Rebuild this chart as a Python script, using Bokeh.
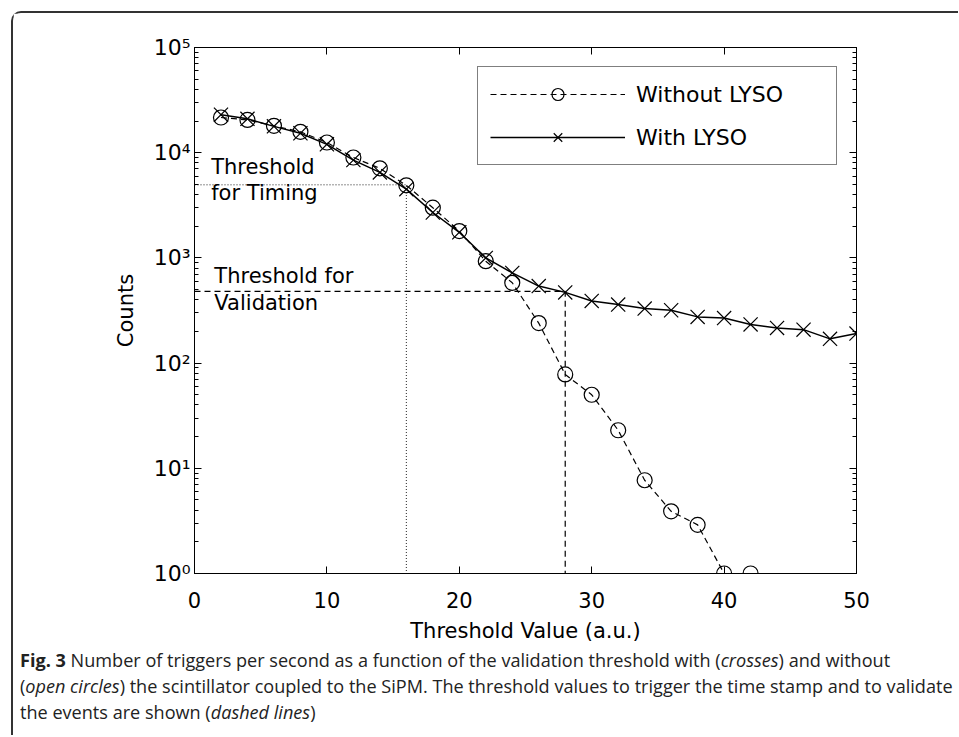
from bokeh.plotting import figure
from bokeh.models import (Range1d, LinearAxis, LogAxis, FixedTicker, Label, Legend,
                          LegendItem, Div, ColumnDataSource, CustomJSTickFormatter)
from bokeh.layouts import column
from bokeh.embed import file_html
from bokeh.resources import INLINE

# ---------------- data ----------------
without_x = [2, 4, 6, 8, 10, 12, 14, 16, 18, 20, 22, 24, 26, 28, 30, 32, 34, 36, 38, 40, 42]
without_counts = [21600, 20500, 18000, 15800, 12500, 9000, 7100, 4900, 3000, 1800,
                  930, 580, 240, 78, 50, 23, 7.7, 3.9, 2.9, 1.0, 1.0]
with_x = [2, 4, 6, 8, 10, 12, 14, 16, 18, 20, 22, 24, 26, 28, 30, 32, 34, 36, 38,
          40, 42, 44, 46, 48, 50]
with_counts = [23000, 21000, 17800, 15300, 12000, 8500, 6500, 4500, 2700, 1750,
               1000, 720, 540, 470, 390, 360, 330, 318, 275, 268, 233, 216, 208, 170, 191]
x_ticks = [0, 10, 20, 30, 40, 50]
y_ticks = [1, 10, 100, 1000, 10000, 100000]
y_tick_labels = ["10\u2070", "10\u00b9", "10\u00b2", "10\u00b3", "10\u2074", "10\u2075"]
timing_threshold = 16
timing_counts = 4950
validation_threshold = 28
validation_counts = 480

FONT = "DejaVu Sans"
FS = "21px"

p = figure(x_range=Range1d(0, 50), y_range=Range1d(1, 1e5), y_axis_type="log",
           frame_width=662, frame_height=526,
           min_border_left=181, min_border_right=90, min_border_top=34, min_border_bottom=72,
           output_backend="svg", toolbar_location=None)
p.grid.visible = False
p.outline_line_color = "black"
p.background_fill_color = "white"
p.border_fill_color = "white"

minor = [m * 10 ** k for k in range(5) for m in range(2, 10)]
blank = CustomJSTickFormatter(code="return '';")

# bottom axis
xa = p.xaxis[0]
xa.ticker = FixedTicker(ticks=x_ticks)
xa.major_tick_in = 7
xa.major_tick_out = 0
xa.minor_tick_line_color = None
xa.major_label_standoff = 18
xa.major_label_text_font = FONT
xa.major_label_text_font_size = FS
xa.major_label_text_color = "black"
xa.axis_label = "Threshold Value (a.u.)"
xa.axis_label_text_font = FONT
xa.axis_label_text_font_size = FS
xa.axis_label_text_font_style = "normal"
xa.axis_label_text_color = "black"
xa.axis_label_standoff = 8
xa.axis_line_color = "black"

# left axis (labels 10^k)
ya = p.yaxis[0]
ya.ticker = FixedTicker(ticks=y_ticks, minor_ticks=minor)
ya.formatter = CustomJSTickFormatter(
    args=dict(yt=y_ticks, yl=y_tick_labels),
    code="""
        let best = 0;
        for (let i = 0; i < yt.length; i++) {
            if (Math.abs(Math.log10(yt[i]) - Math.log10(tick)) <
                Math.abs(Math.log10(yt[best]) - Math.log10(tick))) { best = i; }
        }
        return yl[best];
    """)
ya.major_tick_in = 7
ya.major_tick_out = 0
ya.minor_tick_in = 4
ya.minor_tick_out = 0
ya.major_label_standoff = 4
ya.major_label_text_font = FONT
ya.major_label_text_font_size = "22px"
ya.major_label_text_color = "black"
ya.axis_label = "Counts"
ya.axis_label_text_font = FONT
ya.axis_label_text_font_size = FS
ya.axis_label_text_font_style = "normal"
ya.axis_label_text_color = "black"
ya.axis_label_standoff = 13
ya.axis_line_color = "black"

# top and right axes (box with inward ticks)
top = LinearAxis(ticker=FixedTicker(ticks=x_ticks), formatter=blank, major_tick_in=7,
                 major_tick_out=0, minor_tick_line_color=None, major_label_standoff=0,
                 axis_line_color="black")
p.add_layout(top, "above")
right = LogAxis(ticker=FixedTicker(ticks=y_ticks, minor_ticks=minor), formatter=blank,
                major_tick_in=7, major_tick_out=0, minor_tick_in=4, minor_tick_out=0,
                major_label_standoff=0, axis_line_color="black")
p.add_layout(right, "right")

# threshold guide lines
y_floor = y_ticks[0]
p.line([0, timing_threshold, timing_threshold], [timing_counts, timing_counts, y_floor],
       line_dash="1 2", line_width=1, line_color="#222222")
p.line([0, validation_threshold, validation_threshold],
       [validation_counts, validation_counts, y_floor],
       line_dash="6 4", line_width=1.2, line_color="black")

# data
src_wo = ColumnDataSource(dict(x=without_x, y=without_counts))
src_w = ColumnDataSource(dict(x=with_x, y=with_counts))
l_wo = p.line("x", "y", source=src_wo, line_dash="6 4", line_width=1.2, line_color="black")
m_wo = p.scatter("x", "y", source=src_wo, marker="circle", size=15, fill_color=None,
                 line_color="black", line_width=1.2)
l_w = p.line("x", "y", source=src_w, line_width=1.5, line_color="black")
m_w = p.scatter("x", "y", source=src_w, marker="x", size=20, line_color="black",
                line_width=1.2)

# annotations
for txt, xx, yy in [("Threshold", 1.26, 10 ** 3.862), ("for Timing", 1.26, 10 ** 3.62),
                    ("Threshold for", 1.5, 10 ** 2.826), ("Validation", 1.5, 10 ** 2.57)]:
    p.add_layout(Label(x=xx, y=yy, text=txt, text_font=FONT, text_font_size=FS,
                       text_baseline="alphabetic", text_align="left", text_color="black"))

legend = Legend(items=[LegendItem(label="Without LYSO", renderers=[l_wo, m_wo]),
                       LegendItem(label="With LYSO", renderers=[l_w, m_w])],
                location="top_right", margin=19, padding=12, spacing=13,
                glyph_width=135, glyph_height=30, label_height=30, label_width=188,
                label_standoff=11, label_text_font=FONT, label_text_font_size="22px",
                label_text_color="black", border_line_color="black", border_line_width=1,
                background_fill_color="white", background_fill_alpha=1)
p.add_layout(legend)

caption_html = (
    '<div style="font-family:\'Open Sans\'; font-size:18.1px; line-height:26px; '
    'white-space:nowrap; margin-left:2px; margin-top:-3px; color:#222;">'
    '<b>Fig. 3</b> Number of triggers per second as a function of the validation threshold '
    'with (<i>crosses</i>) and without<br>'
    '(<i>open circles</i>) the scintillator coupled to the SiPM. The threshold values to '
    'trigger the time stamp and to validate<br>'
    'the events are shown (<i>dashed lines</i>)</div>'
)
cap = Div(text=caption_html, width=935, height=80)

layout = column(p, cap, styles={"border-top": "2px solid #333", "border-left": "2px solid #333",
                                "border-top-left-radius": "10px", "margin-left": "11px",
                                "margin-top": "11px"})

open("out.html", "w").write(file_html(layout, INLINE))
